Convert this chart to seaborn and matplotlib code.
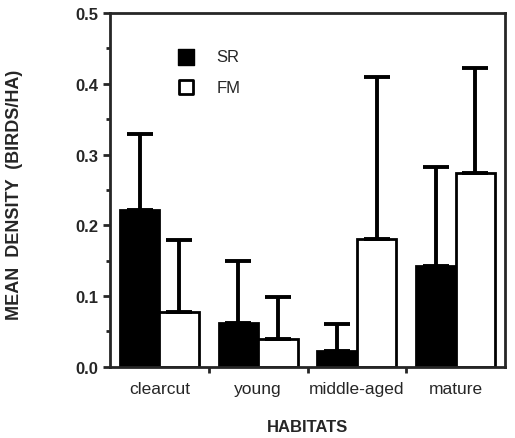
import numpy as np
import pandas as pd
import seaborn as sns
import matplotlib.pyplot as plt
from matplotlib.ticker import MultipleLocator

habitats = ['clearcut', 'young', 'middle-aged', 'mature']
sr_mean = [0.221, 0.062, 0.022, 0.143]
fm_mean = [0.078, 0.040, 0.181, 0.274]
sr_upper = [0.329, 0.150, 0.061, 0.283]
fm_upper = [0.179, 0.099, 0.410, 0.423]

sns.set_theme(style='ticks')
plt.rcParams['font.family'] = ['Liberation Sans', 'DejaVu Sans']

df = pd.DataFrame({
    'habitat': habitats * 2,
    'group': ['SR'] * 4 + ['FM'] * 4,
    'density': sr_mean + fm_mean,
    'upper': sr_upper + fm_upper,
})

fig = plt.figure(figsize=(5.15, 4.39), dpi=100)
ax = fig.add_axes([0.2136, 0.162, 0.767, 0.806])

sns.barplot(data=df, x='habitat', y='density', hue='group',
            palette=['black', 'white'], edgecolor='black', linewidth=2,
            width=0.8, errorbar=None, ax=ax, legend=False)

# upper-only error bars centred on each bar
bars = [p for p in ax.patches if p.get_height() > 0]
for p, (_, row) in zip(bars, df.iterrows()):
    cx = p.get_x() + p.get_width() / 2
    ax.errorbar(cx, row['density'], yerr=[[0], [row['upper'] - row['density']]],
                fmt='none', ecolor='black', elinewidth=2.8, capsize=9.5,
                capthick=2.8, zorder=1)

ax.set_ylim(0, 0.5)
ax.set_xlim(-0.5, 3.5)
ax.yaxis.set_minor_locator(MultipleLocator(0.05))
ax.set_yticks([0.0, 0.1, 0.2, 0.3, 0.4, 0.5])
ax.set_yticklabels(['0.0', '0.1', '0.2', '0.3', '0.4', '0.5'])
ax.set_xticks([0, 1, 2, 3])
ax.set_xticks([0.5, 1.5, 2.5], minor=True)
ax.tick_params(axis='y', which='major', direction='out', length=5, width=2, labelsize=12)
ax.tick_params(axis='y', which='minor', direction='out', length=3, width=2)
ax.tick_params(axis='x', which='major', length=0, labelsize=12.5, pad=10)
ax.tick_params(axis='x', which='minor', direction='out', length=4, width=2)
for lbl in ax.get_yticklabels():
    lbl.set_fontweight('bold')
for s in ax.spines.values():
    s.set_visible(True)
    s.set_linewidth(2)

ax.set_xlabel('HABITATS', fontweight='bold', fontsize=12)
ax.set_ylabel('MEAN  DENSITY  (BIRDS/HA)', fontweight='bold', fontsize=13)
ax.xaxis.set_label_coords(0.5, -0.148)
ax.yaxis.set_label_coords(-0.22, 0.49)

# legend
ax.scatter([0.27], [0.438], marker='s', s=120, color='black', zorder=5)
ax.scatter([0.27], [0.395], marker='s', s=95, facecolor='white',
           edgecolor='black', linewidth=2, zorder=5)
ax.text(0.58, 0.438, 'SR', fontsize=12, va='center')
ax.text(0.58, 0.395, 'FM', fontsize=12, va='center')

fig.savefig('out.png', dpi=100)
